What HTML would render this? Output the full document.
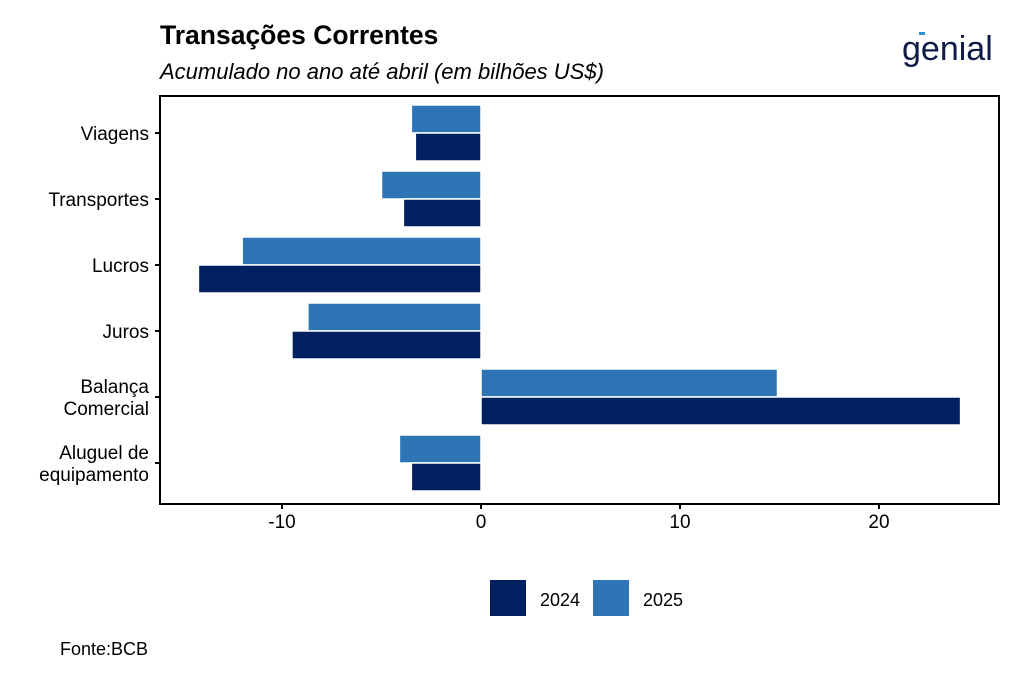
<!DOCTYPE html>
<html><head><meta charset="utf-8"><style>
body{margin:0;background:#fff;font-family:"Liberation Sans",Arial,sans-serif}
</style></head><body>
<svg width="1024" height="683" viewBox="0 0 1024 683" xmlns="http://www.w3.org/2000/svg" font-family="Liberation Sans, Arial, sans-serif">
<text x="160" y="44" font-size="26.5" font-weight="bold" fill="#000">Transações Correntes</text>
<text x="160" y="79" font-size="22" font-style="italic" fill="#000">Acumulado no ano até abril (em bilhões US$)</text>
<g>
<text x="902" y="60" font-size="34" fill="#0f1a45">genial</text>
<rect x="919" y="32" width="6" height="3" fill="#2a8fd8"/>
</g>
<g id="plot"></g>
<rect x="160" y="96" width="839" height="408" fill="none" stroke="#000" stroke-width="2"/>
<g>
<rect x="490" y="580" width="36" height="36" fill="#002060"/>
<text x="540" y="606" font-size="18">2024</text>
<rect x="593" y="580" width="36" height="36" fill="#2e75b6"/>
<text x="643" y="606" font-size="18">2025</text>
</g>
<text x="60" y="655" font-size="18">Fonte:BCB</text>
</svg>
<script>
const categories=[["Viagens"],["Transportes"],["Lucros"],["Juros"],["Balança","Comercial"],["Aluguel de","equipamento"]];
const values2024=[-3.3,-3.9,-14.2,-9.5,24.1,-3.5];
const values2025=[-3.5,-5.0,-12.0,-8.7,14.9,-4.1];
const xTicks=[-10,0,10,20];
const NS="http://www.w3.org/2000/svg";
const g=document.getElementById('plot');
const x=v=>481+v*19.9;
const yc=i=>133+i*66;
function el(t,a){const e=document.createElementNS(NS,t);for(const k in a)e.setAttribute(k,a[k]);g.appendChild(e);return e;}
categories.forEach((c,i)=>{
  const cy=yc(i);
  [[values2025[i],cy-28,'#2e75b6','2025'],[values2024[i],cy,'#002060','2024']].forEach(([v,top,col,yr])=>{
    const r=el('rect',{x:Math.min(x(0),x(v)),y:top,width:Math.abs(x(v)-x(0)),height:28,fill:col,stroke:'#fff','stroke-width':1.5});
    
    
  });
  const tk=el('line',{x1:155,x2:160,y1:cy,y2:cy,stroke:'#000','stroke-width':2});
  
  
  const t=el('text',{x:149,'font-size':19,'text-anchor':'end',fill:'#000'});
  
  
  const n=c.length;
  c.forEach((s,j)=>{const ts=document.createElementNS(NS,'tspan');ts.setAttribute('x',149);ts.setAttribute('y',cy+7+(j-(n-1)/2)*22);ts.textContent=s;t.appendChild(ts);});
});
xTicks.forEach(v=>{
  const tk=el('line',{x1:x(v),x2:x(v),y1:504,y2:509,stroke:'#000','stroke-width':2});
  
  
  const t=el('text',{x:x(v),y:528,'font-size':19,'text-anchor':'middle',fill:'#000'});
  
  
  t.textContent=v;
});
</script>
</body></html>
